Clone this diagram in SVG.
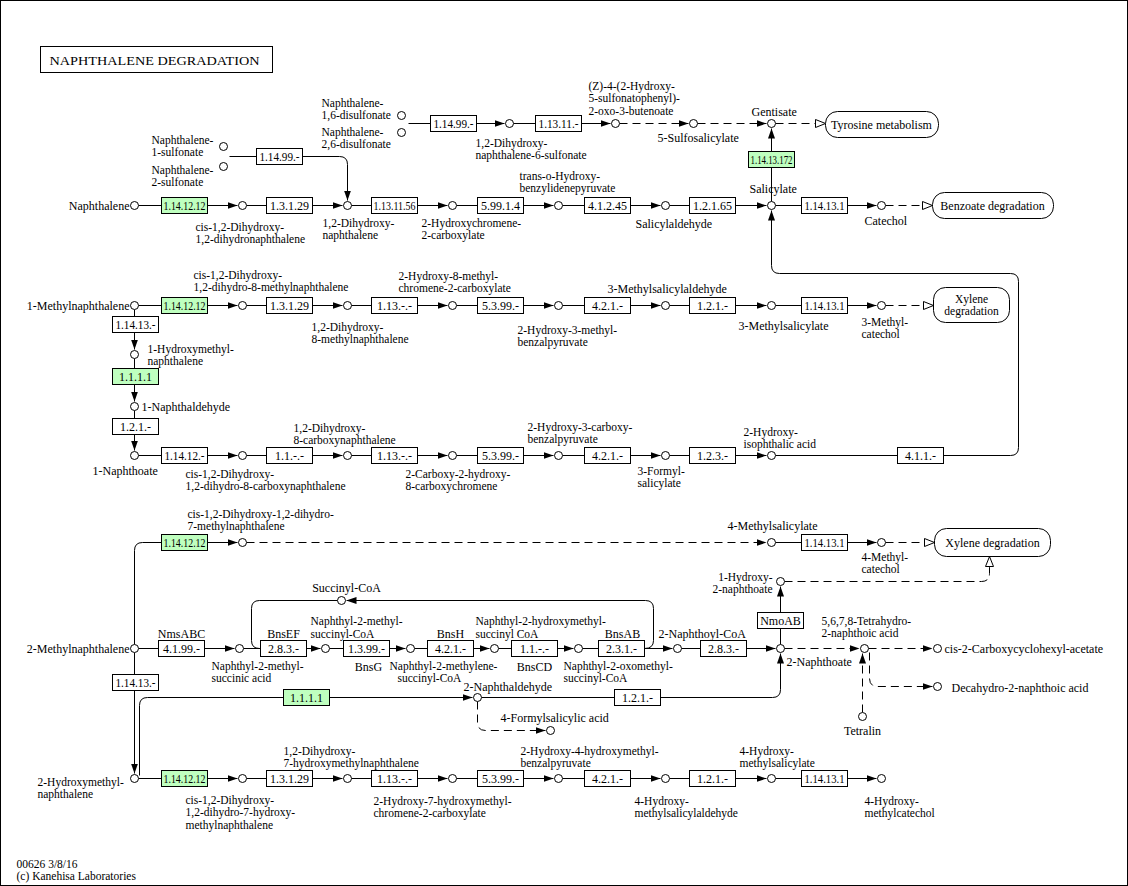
<svg xmlns="http://www.w3.org/2000/svg" width="1128" height="886" viewBox="0 0 1128 886">
<defs>
<style>
text{font-family:"Liberation Serif","Times New Roman",serif;font-size:12px;fill:#000}
.ml{font-size:11.5px}
.et{text-anchor:middle}
.m{text-anchor:middle}
.r{text-anchor:end}
.c{fill:#fff;stroke:#000;stroke-width:1}
.e{fill:#fff;stroke:#000;stroke-width:1}
.g{fill:#bfffbf;stroke:#000;stroke-width:1}
.mp{fill:#fff;stroke:#000;stroke-width:1}
.l{fill:none;stroke:#000;stroke-width:1}
.d{stroke-dasharray:8,5}
.a{marker-end:url(#ar)}
.o{marker-end:url(#oa)}
</style>
<marker id="ar" viewBox="0 0 10 8" refX="10" refY="4" markerWidth="10" markerHeight="8" markerUnits="userSpaceOnUse" orient="auto"><path d="M0,0.5 L10,4 L0,7.5 Z" fill="#000"/></marker>
<marker id="oa" viewBox="0 0 11 9" refX="10.5" refY="4.5" markerWidth="11" markerHeight="9" markerUnits="userSpaceOnUse" orient="auto"><path d="M0.5,0.5 L10.5,4.5 L0.5,8.5 Z" fill="#fff" stroke="#000"/></marker>
</defs>
<rect x="0" y="0" width="1128" height="886" fill="#fff"/>
<rect x="0.5" y="0.5" width="1127" height="885" fill="none" stroke="#000"/>
<g transform="translate(0.5,0.5)">
<g id="title"><rect x="40" y="46" width="232" height="26" fill="#fff" stroke="#000"/><text x="49" y="64" font-size="13" textLength="210" lengthAdjust="spacingAndGlyphs">NAPHTHALENE  DEGRADATION</text></g>
<g id="footer"><text class="ml" x="16" y="867">00626 3/8/16<tspan x="16" dy="12.8">(c) Kanehisa Laboratories</tspan></text></g>

<g id="connectors">
<path class="l" d="M408,123 H430"/>
<path class="l a" d="M476,123 H504"/>
<path class="l" d="M513,123 H535"/>
<path class="l a" d="M581,123 H610"/>
<path class="l d a" d="M619,123 H688"/>
<path class="l d a" d="M697,123 H766"/>
<path class="l d o" d="M775,123 H825"/>
<path class="l" d="M229,156 H256"/>
<path class="l a" d="M302,156 H339 Q347,156 347,164 V200"/>
<path class="l" d="M138,205 H161"/>
<path class="l a" d="M207,205 H237"/>
<path class="l" d="M246,205 H266"/>
<path class="l a" d="M312,205 H342"/>
<path class="l" d="M351,205 H371"/>
<path class="l a" d="M417,205 H447"/>
<path class="l" d="M456,205 H477"/>
<path class="l a" d="M523,205 H553"/>
<path class="l" d="M562,205 H584"/>
<path class="l a" d="M630,205 H660"/>
<path class="l" d="M669,205 H689"/>
<path class="l a" d="M735,205 H766"/>
<path class="l" d="M775,205 H801"/>
<path class="l a" d="M847,205 H876"/>
<path class="l d o" d="M885,205 H932"/>
<path class="l" d="M771,201 V167"/>
<path class="l a" d="M771,151 V128"/>
<path class="l" d="M138,305 H161"/>
<path class="l a" d="M207,305 H237"/>
<path class="l" d="M246,305 H266"/>
<path class="l a" d="M312,305 H342"/>
<path class="l" d="M351,305 H371"/>
<path class="l a" d="M417,305 H447"/>
<path class="l" d="M456,305 H477"/>
<path class="l a" d="M523,305 H553"/>
<path class="l" d="M562,305 H584"/>
<path class="l a" d="M630,305 H660"/>
<path class="l" d="M669,305 H689"/>
<path class="l a" d="M735,305 H766"/>
<path class="l" d="M775,305 H801"/>
<path class="l a" d="M847,305 H876"/>
<path class="l d o" d="M885,305 H933"/>
<path class="l" d="M134,309 V316"/>
<path class="l a" d="M134,332 V349"/>
<path class="l" d="M134,358 V368"/>
<path class="l a" d="M134,384 V401"/>
<path class="l" d="M134,410 V418"/>
<path class="l a" d="M134,434 V450"/>
<path class="l" d="M138,455 H161"/>
<path class="l a" d="M207,455 H237"/>
<path class="l" d="M246,455 H266"/>
<path class="l a" d="M312,455 H342"/>
<path class="l" d="M351,455 H371"/>
<path class="l a" d="M417,455 H447"/>
<path class="l" d="M456,455 H477"/>
<path class="l a" d="M523,455 H553"/>
<path class="l" d="M562,455 H584"/>
<path class="l a" d="M630,455 H660"/>
<path class="l" d="M669,455 H689"/>
<path class="l a" d="M735,455 H766"/>
<path class="l" d="M775,455 H897"/>
<path class="l a" d="M943,455 H1010 Q1018,455 1018,447 V281 Q1018,273 1010,273 H779 Q771,273 771,265 V210"/>
<path class="l" d="M134,644 V550 Q134,542 142,542 H161"/>
<path class="l a" d="M207,542 H237"/>
<path class="l d a" d="M246,542 H766"/>
<path class="l" d="M775,542 H801"/>
<path class="l a" d="M847,542 H876"/>
<path class="l d o" d="M885,542 H934"/>
<path class="l" d="M138,648 H158"/>
<path class="l a" d="M204,648 H234"/>
<path class="l" d="M243,648 H260"/>
<path class="l a" d="M306,648 H320"/>
<path class="l" d="M329,648 H343"/>
<path class="l a" d="M389,648 H405"/>
<path class="l" d="M414,648 H427"/>
<path class="l a" d="M473,648 H489"/>
<path class="l" d="M498,648 H511"/>
<path class="l a" d="M557,648 H573"/>
<path class="l" d="M582,648 H598"/>
<path class="l a" d="M644,648 H672"/>
<path class="l" d="M681,648 H700"/>
<path class="l a" d="M746,648 H775"/>
<path class="l" d="M259,648 Q251,648 251,640 V608 Q251,600 259,600 H337"/>
<path class="l a" d="M644,648 Q653,648 653,640 V608 Q653,600 645,600 H346"/>
<path class="l" d="M780,644 V628"/>
<path class="l a" d="M780,612 V586"/>
<path class="l d o" d="M784,581 H981 Q989,581 989,573 V556"/>
<path class="l d a" d="M784,648 H859"/>
<path class="l d a" d="M868,648 H932"/>
<path class="l d a" d="M869,652 V678 Q869,686 877,686 H932"/>
<path class="l d a" d="M862,712 V653"/>
<path class="l" d="M134,652 V674"/>
<path class="l a" d="M134,690 V773"/>
<path class="l" d="M139,775 V705 Q139,697 147,697 H283"/>
<path class="l a" d="M329,697 H472"/>
<path class="l" d="M481,697 H614"/>
<path class="l a" d="M660,697 H772 Q780,697 780,689 V653"/>
<path class="l d a" d="M477,701 V722 Q477,730 485,730 H545"/>
<path class="l" d="M138,778 H161"/>
<path class="l a" d="M207,778 H237"/>
<path class="l" d="M246,778 H266"/>
<path class="l a" d="M312,778 H342"/>
<path class="l" d="M351,778 H371"/>
<path class="l a" d="M417,778 H447"/>
<path class="l" d="M456,778 H477"/>
<path class="l a" d="M523,778 H553"/>
<path class="l" d="M562,778 H584"/>
<path class="l a" d="M630,778 H660"/>
<path class="l" d="M669,778 H689"/>
<path class="l a" d="M735,778 H766"/>
<path class="l" d="M775,778 H801"/>
<path class="l a" d="M847,778 H876"/>
</g>

<g id="map_tyr"><rect class="mp" x="825" y="111" width="113" height="26" rx="12"/><text class="m" x="881" y="128">Tyrosine metabolism</text></g>
<g id="map_benz"><rect class="mp" x="932" y="192" width="121" height="26" rx="12"/><text class="m" x="992" y="209">Benzoate degradation</text></g>
<g id="map_xyl1"><rect class="mp" x="933" y="287" width="76" height="35" rx="12"/><text class="m ml" x="971" y="302">Xylene<tspan x="971" dy="12.8">degradation</tspan></text></g>
<g id="map_xyl2"><rect class="mp" x="934" y="528" width="116" height="28" rx="12"/><text class="m" x="992" y="546">Xylene degradation</text></g>

<g id="e_top1"><rect class="e" x="256" y="148" width="46" height="16"/><text class="et" x="279" y="160" textLength="40" lengthAdjust="spacingAndGlyphs">1.14.99.-</text></g>
<g id="e_top2"><rect class="e" x="430" y="115" width="46" height="16"/><text class="et" x="453" y="127" textLength="40" lengthAdjust="spacingAndGlyphs">1.14.99.-</text></g>
<g id="e_top3"><rect class="e" x="535" y="115" width="46" height="16"/><text class="et" x="558" y="127" textLength="40" lengthAdjust="spacingAndGlyphs">1.13.11.-</text></g>
<g id="e_sal"><rect class="g" x="748" y="151" width="46" height="16"/><text class="et" x="771" y="163" textLength="42" lengthAdjust="spacingAndGlyphs">1.14.13.172</text></g>

<g id="e_r1a"><rect class="g" x="161" y="197" width="46" height="16"/><text class="et" x="184" y="209" textLength="42" lengthAdjust="spacingAndGlyphs">1.14.12.12</text></g>
<g id="e_r1b"><rect class="e" x="266" y="197" width="46" height="16"/><text class="et" x="289" y="209">1.3.1.29</text></g>
<g id="e_r1c"><rect class="e" x="371" y="197" width="46" height="16"/><text class="et" x="394" y="209" textLength="42" lengthAdjust="spacingAndGlyphs">1.13.11.56</text></g>
<g id="e_r1d"><rect class="e" x="477" y="197" width="46" height="16"/><text class="et" x="500" y="209">5.99.1.4</text></g>
<g id="e_r1e"><rect class="e" x="584" y="197" width="46" height="16"/><text class="et" x="607" y="209">4.1.2.45</text></g>
<g id="e_r1f"><rect class="e" x="689" y="197" width="46" height="16"/><text class="et" x="712" y="209">1.2.1.65</text></g>
<g id="e_r1g"><rect class="e" x="801" y="197" width="46" height="16"/><text class="et" x="824" y="209" textLength="40" lengthAdjust="spacingAndGlyphs">1.14.13.1</text></g>

<g id="e_r2a"><rect class="g" x="161" y="297" width="46" height="16"/><text class="et" x="184" y="309" textLength="42" lengthAdjust="spacingAndGlyphs">1.14.12.12</text></g>
<g id="e_r2b"><rect class="e" x="266" y="297" width="46" height="16"/><text class="et" x="289" y="309">1.3.1.29</text></g>
<g id="e_r2c"><rect class="e" x="371" y="297" width="46" height="16"/><text class="et" x="394" y="309">1.13.-.-</text></g>
<g id="e_r2d"><rect class="e" x="477" y="297" width="46" height="16"/><text class="et" x="500" y="309">5.3.99.-</text></g>
<g id="e_r2e"><rect class="e" x="584" y="297" width="46" height="16"/><text class="et" x="607" y="309">4.2.1.-</text></g>
<g id="e_r2f"><rect class="e" x="689" y="297" width="46" height="16"/><text class="et" x="712" y="309">1.2.1.-</text></g>
<g id="e_r2g"><rect class="e" x="801" y="297" width="46" height="16"/><text class="et" x="824" y="309" textLength="40" lengthAdjust="spacingAndGlyphs">1.14.13.1</text></g>
<g id="e_v1"><rect class="e" x="112" y="316" width="46" height="16"/><text class="et" x="135" y="328" textLength="40" lengthAdjust="spacingAndGlyphs">1.14.13.-</text></g>
<g id="e_v2"><rect class="g" x="112" y="368" width="46" height="16"/><text class="et" x="135" y="380">1.1.1.1</text></g>
<g id="e_v3"><rect class="e" x="112" y="418" width="46" height="16"/><text class="et" x="135" y="430">1.2.1.-</text></g>

<g id="e_r3a"><rect class="e" x="161" y="447" width="46" height="16"/><text class="et" x="184" y="459" textLength="40" lengthAdjust="spacingAndGlyphs">1.14.12.-</text></g>
<g id="e_r3b"><rect class="e" x="266" y="447" width="46" height="16"/><text class="et" x="289" y="459">1.1.-.-</text></g>
<g id="e_r3c"><rect class="e" x="371" y="447" width="46" height="16"/><text class="et" x="394" y="459">1.13.-.-</text></g>
<g id="e_r3d"><rect class="e" x="477" y="447" width="46" height="16"/><text class="et" x="500" y="459">5.3.99.-</text></g>
<g id="e_r3e"><rect class="e" x="584" y="447" width="46" height="16"/><text class="et" x="607" y="459">4.2.1.-</text></g>
<g id="e_r3f"><rect class="e" x="689" y="447" width="46" height="16"/><text class="et" x="712" y="459">1.2.3.-</text></g>
<g id="e_r3g"><rect class="e" x="897" y="447" width="46" height="16"/><text class="et" x="920" y="459">4.1.1.-</text></g>

<g id="e_r4a"><rect class="g" x="161" y="534" width="46" height="16"/><text class="et" x="184" y="546" textLength="42" lengthAdjust="spacingAndGlyphs">1.14.12.12</text></g>
<g id="e_r4b"><rect class="e" x="801" y="534" width="46" height="16"/><text class="et" x="824" y="546" textLength="40" lengthAdjust="spacingAndGlyphs">1.14.13.1</text></g>

<g id="e_r5a"><rect class="e" x="158" y="640" width="46" height="16"/><text class="et" x="181" y="652">4.1.99.-</text><text class="m" x="181" y="637">NmsABC</text></g>
<g id="e_r5b"><rect class="e" x="260" y="640" width="46" height="16"/><text class="et" x="283" y="652">2.8.3.-</text><text class="m" x="283" y="637">BnsEF</text></g>
<g id="e_r5c"><rect class="e" x="343" y="640" width="46" height="16"/><text class="et" x="366" y="652">1.3.99.-</text><text class="m" x="368" y="670">BnsG</text></g>
<g id="e_r5d"><rect class="e" x="427" y="640" width="46" height="16"/><text class="et" x="450" y="652">4.2.1.-</text><text class="m" x="450" y="637">BnsH</text></g>
<g id="e_r5e"><rect class="e" x="511" y="640" width="46" height="16"/><text class="et" x="534" y="652">1.1.-.-</text><text class="m" x="534" y="670">BnsCD</text></g>
<g id="e_r5f"><rect class="e" x="598" y="640" width="46" height="16"/><text class="et" x="621" y="652">2.3.1.-</text><text class="m" x="622" y="637">BnsAB</text></g>
<g id="e_r5g"><rect class="e" x="700" y="640" width="46" height="16"/><text class="et" x="723" y="652">2.8.3.-</text></g>
<g id="e_nmo"><rect class="e" x="757" y="612" width="46" height="16"/><text class="et" x="780" y="624">NmoAB</text></g>
<g id="e_v4"><rect class="e" x="112" y="674" width="46" height="16"/><text class="et" x="135" y="686" textLength="40" lengthAdjust="spacingAndGlyphs">1.14.13.-</text></g>
<g id="e_r5h"><rect class="g" x="283" y="689" width="46" height="16"/><text class="et" x="306" y="701">1.1.1.1</text></g>
<g id="e_r5i"><rect class="e" x="614" y="689" width="46" height="16"/><text class="et" x="637" y="701">1.2.1.-</text></g>

<g id="e_r6a"><rect class="g" x="161" y="770" width="46" height="16"/><text class="et" x="184" y="782" textLength="42" lengthAdjust="spacingAndGlyphs">1.14.12.12</text></g>
<g id="e_r6b"><rect class="e" x="266" y="770" width="46" height="16"/><text class="et" x="289" y="782">1.3.1.29</text></g>
<g id="e_r6c"><rect class="e" x="371" y="770" width="46" height="16"/><text class="et" x="394" y="782">1.13.-.-</text></g>
<g id="e_r6d"><rect class="e" x="477" y="770" width="46" height="16"/><text class="et" x="500" y="782">5.3.99.-</text></g>
<g id="e_r6e"><rect class="e" x="584" y="770" width="46" height="16"/><text class="et" x="607" y="782">4.2.1.-</text></g>
<g id="e_r6f"><rect class="e" x="689" y="770" width="46" height="16"/><text class="et" x="712" y="782">1.2.1.-</text></g>
<g id="e_r6g"><rect class="e" x="801" y="770" width="46" height="16"/><text class="et" x="824" y="782" textLength="40" lengthAdjust="spacingAndGlyphs">1.14.13.1</text></g>

<g id="c_n16ds"><circle class="c" cx="401" cy="115" r="4"/><text class="ml" x="321" y="106">Naphthalene-<tspan x="321" dy="12.8">1,6-disulfonate</tspan></text></g>
<g id="c_n26ds"><circle class="c" cx="401" cy="132" r="4"/><text class="ml" x="321" y="135">Naphthalene-<tspan x="321" dy="12.8">2,6-disulfonate</tspan></text></g>
<g id="c_dhn6s"><circle class="c" cx="509" cy="123" r="4"/><text class="ml" x="475" y="146">1,2-Dihydroxy-<tspan x="475" dy="12.8">naphthalene-6-sulfonate</tspan></text></g>
<g id="c_zhsb"><circle class="c" cx="615" cy="123" r="4"/><text class="ml" x="588" y="89">(Z)-4-(2-Hydroxy-<tspan x="588" dy="12.8">5-sulfonatophenyl)-</tspan><tspan x="588" dy="12.8">2-oxo-3-butenoate</tspan></text></g>
<g id="c_5ss"><circle class="c" cx="693" cy="123" r="4"/><text x="657" y="141">5-Sulfosalicylate</text></g>
<g id="c_gent"><circle class="c" cx="771" cy="123" r="4"/><text x="751" y="115">Gentisate</text></g>
<g id="c_n1s"><circle class="c" cx="223" cy="146" r="4"/><text class="ml" x="151" y="143">Naphthalene-<tspan x="151" dy="12.8">1-sulfonate</tspan></text></g>
<g id="c_n2s"><circle class="c" cx="223" cy="166" r="4"/><text class="ml" x="151" y="173">Naphthalene-<tspan x="151" dy="12.8">2-sulfonate</tspan></text></g>

<g id="c_naph"><circle class="c" cx="134" cy="205" r="4"/><text class="r" x="129" y="209">Naphthalene</text></g>
<g id="c_cdhn"><circle class="c" cx="242" cy="205" r="4"/><text class="ml" x="195" y="230">cis-1,2-Dihydroxy-<tspan x="195" dy="12.8">1,2-dihydronaphthalene</tspan></text></g>
<g id="c_dhn"><circle class="c" cx="347" cy="205" r="4"/><text class="ml" x="322" y="226">1,2-Dihydroxy-<tspan x="322" dy="12.8">naphthalene</tspan></text></g>
<g id="c_hcc"><circle class="c" cx="452" cy="205" r="4"/><text class="ml" x="421" y="226">2-Hydroxychromene-<tspan x="421" dy="12.8">2-carboxylate</tspan></text></g>
<g id="c_tohbp"><circle class="c" cx="558" cy="205" r="4"/><text class="ml" x="519" y="179">trans-o-Hydroxy-<tspan x="519" dy="12.8">benzylidenepyruvate</tspan></text></g>
<g id="c_salald"><circle class="c" cx="665" cy="205" r="4"/><text x="635" y="227">Salicylaldehyde</text></g>
<g id="c_sal"><circle class="c" cx="771" cy="205" r="4"/><text x="749" y="192">Salicylate</text></g>
<g id="c_cat"><circle class="c" cx="881" cy="205" r="4"/><text x="864" y="224">Catechol</text></g>

<g id="c_1mn"><circle class="c" cx="134" cy="305" r="4"/><text class="r" x="129" y="309">1-Methylnaphthalene</text></g>
<g id="c_r2a"><circle class="c" cx="242" cy="305" r="4"/><text class="ml" x="193" y="278">cis-1,2-Dihydroxy-<tspan x="193" dy="12.8">1,2-dihydro-8-methylnaphthalene</tspan></text></g>
<g id="c_r2b"><circle class="c" cx="347" cy="305" r="4"/><text class="ml" x="311" y="330">1,2-Dihydroxy-<tspan x="311" dy="12.8">8-methylnaphthalene</tspan></text></g>
<g id="c_r2c"><circle class="c" cx="452" cy="305" r="4"/><text class="ml" x="398" y="279">2-Hydroxy-8-methyl-<tspan x="398" dy="12.8">chromene-2-carboxylate</tspan></text></g>
<g id="c_r2d"><circle class="c" cx="558" cy="305" r="4"/><text class="ml" x="517" y="333">2-Hydroxy-3-methyl-<tspan x="517" dy="12.8">benzalpyruvate</tspan></text></g>
<g id="c_r2e"><circle class="c" cx="665" cy="305" r="4"/><text x="607" y="292">3-Methylsalicylaldehyde</text></g>
<g id="c_r2f"><circle class="c" cx="771" cy="305" r="4"/><text x="738" y="329">3-Methylsalicylate</text></g>
<g id="c_r2g"><circle class="c" cx="881" cy="305" r="4"/><text class="ml" x="861" y="325">3-Methyl-<tspan x="861" dy="12.8">catechol</tspan></text></g>
<g id="c_1hmn"><circle class="c" cx="134" cy="354" r="4"/><text class="ml" x="147" y="352">1-Hydroxymethyl-<tspan x="147" dy="12.8">naphthalene</tspan></text></g>
<g id="c_1nald"><circle class="c" cx="134" cy="406" r="4"/><text x="141" y="410">1-Naphthaldehyde</text></g>

<g id="c_1noate"><circle class="c" cx="134" cy="455" r="4"/><text x="92" y="474">1-Naphthoate</text></g>
<g id="c_r3a"><circle class="c" cx="242" cy="455" r="4"/><text class="ml" x="185" y="477">cis-1,2-Dihydroxy-<tspan x="185" dy="12.8">1,2-dihydro-8-carboxynaphthalene</tspan></text></g>
<g id="c_r3b"><circle class="c" cx="347" cy="455" r="4"/><text class="ml" x="293" y="431">1,2-Dihydroxy-<tspan x="293" dy="12.8">8-carboxynaphthalene</tspan></text></g>
<g id="c_r3c"><circle class="c" cx="452" cy="455" r="4"/><text class="ml" x="405" y="477">2-Carboxy-2-hydroxy-<tspan x="405" dy="12.8">8-carboxychromene</tspan></text></g>
<g id="c_r3d"><circle class="c" cx="558" cy="455" r="4"/><text class="ml" x="527" y="430">2-Hydroxy-3-carboxy-<tspan x="527" dy="12.8">benzalpyruvate</tspan></text></g>
<g id="c_r3e"><circle class="c" cx="665" cy="455" r="4"/><text class="ml" x="637" y="474">3-Formyl-<tspan x="637" dy="12.8">salicylate</tspan></text></g>
<g id="c_r3f"><circle class="c" cx="771" cy="455" r="4"/><text class="ml" x="743" y="435">2-Hydroxy-<tspan x="743" dy="12.8">isophthalic acid</tspan></text></g>

<g id="c_r4a"><circle class="c" cx="242" cy="542" r="4"/><text class="ml" x="187" y="517">cis-1,2-Dihydroxy-1,2-dihydro-<tspan x="187" dy="12.8">7-methylnaphthalene</tspan></text></g>
<g id="c_r4b"><circle class="c" cx="771" cy="542" r="4"/><text x="727" y="529">4-Methylsalicylate</text></g>
<g id="c_r4c"><circle class="c" cx="881" cy="542" r="4"/><text class="ml" x="861" y="560">4-Methyl-<tspan x="861" dy="12.8">catechol</tspan></text></g>
<g id="c_1h2n"><circle class="c" cx="780" cy="581" r="4"/><text class="r ml" x="772" y="580">1-Hydroxy-<tspan x="772" dy="12.8">2-naphthoate</tspan></text></g>

<g id="c_2mn"><circle class="c" cx="134" cy="648" r="4"/><text class="r" x="129" y="652">2-Methylnaphthalene</text></g>
<g id="c_r5a"><circle class="c" cx="239" cy="648" r="4"/><text class="ml" x="211" y="669">Naphthyl-2-methyl-<tspan x="211" dy="12.8">succinic acid</tspan></text></g>
<g id="c_succ"><circle class="c" cx="341" cy="600" r="4"/><text class="m" x="346" y="591">Succinyl-CoA</text></g>
<g id="c_r5b"><circle class="c" cx="325" cy="648" r="4"/><text class="ml" x="310" y="624.5">Naphthyl-2-methyl-<tspan x="310" dy="12.8">succinyl-CoA</tspan></text></g>
<g id="c_r5c"><circle class="c" cx="410" cy="648" r="4"/><text class="ml" x="389" y="669">Naphthyl-2-methylene-<tspan x="397" dy="12.8">succinyl-CoA</tspan></text></g>
<g id="c_r5d"><circle class="c" cx="494" cy="648" r="4"/><text class="ml" x="475" y="624.5">Naphthyl-2-hydroxymethyl-<tspan x="475" dy="12.8">succinyl CoA</tspan></text></g>
<g id="c_r5e"><circle class="c" cx="578" cy="648" r="4"/><text class="ml" x="563" y="669">Naphthyl-2-oxomethyl-<tspan x="563" dy="12.8">succinyl-CoA</tspan></text></g>
<g id="c_r5f"><circle class="c" cx="677" cy="648" r="4"/><text x="658" y="637">2-Naphthoyl-CoA</text></g>
<g id="c_2noate"><circle class="c" cx="780" cy="648" r="4"/><text x="786" y="665">2-Naphthoate</text></g>
<g id="c_thn"><circle class="c" cx="864" cy="648" r="4"/><text class="ml" x="821" y="624">5,6,7,8-Tetrahydro-<tspan x="821" dy="12.8">2-naphthoic acid</tspan></text></g>
<g id="c_cchA"><circle class="c" cx="937" cy="648" r="4"/><text x="944" y="652">cis-2-Carboxycyclohexyl-acetate</text></g>
<g id="c_dhna"><circle class="c" cx="937" cy="686" r="4"/><text x="951" y="691">Decahydro-2-naphthoic acid</text></g>
<g id="c_tetralin"><circle class="c" cx="862" cy="716" r="4"/><text class="m" x="862" y="734">Tetralin</text></g>
<g id="c_2nald"><circle class="c" cx="477" cy="697" r="4"/><text x="463" y="690">2-Naphthaldehyde</text></g>
<g id="c_4fsa"><circle class="c" cx="550" cy="730" r="4"/><text x="500" y="721">4-Formylsalicylic acid</text></g>

<g id="c_2hmn"><circle class="c" cx="134" cy="778" r="4"/><text class="ml" x="37" y="785">2-Hydroxymethyl-<tspan x="37" dy="12.8">naphthalene</tspan></text></g>
<g id="c_r6a"><circle class="c" cx="242" cy="778" r="4"/><text class="ml" x="185" y="803">cis-1,2-Dihydroxy-<tspan x="185" dy="12.8">1,2-dihydro-7-hydroxy-</tspan><tspan x="185" dy="12.8">methylnaphthalene</tspan></text></g>
<g id="c_r6b"><circle class="c" cx="347" cy="778" r="4"/><text class="ml" x="283" y="754">1,2-Dihydroxy-<tspan x="283" dy="12.8">7-hydroxymethylnaphthalene</tspan></text></g>
<g id="c_r6c"><circle class="c" cx="452" cy="778" r="4"/><text class="ml" x="373" y="804">2-Hydroxy-7-hydroxymethyl-<tspan x="373" dy="12.8">chromene-2-carboxylate</tspan></text></g>
<g id="c_r6d"><circle class="c" cx="558" cy="778" r="4"/><text class="ml" x="520" y="754">2-Hydroxy-4-hydroxymethyl-<tspan x="520" dy="12.8">benzalpyruvate</tspan></text></g>
<g id="c_r6e"><circle class="c" cx="665" cy="778" r="4"/><text class="ml" x="634" y="804">4-Hydroxy-<tspan x="634" dy="12.8">methylsalicylaldehyde</tspan></text></g>
<g id="c_r6f"><circle class="c" cx="771" cy="778" r="4"/><text class="ml" x="739" y="754">4-Hydroxy-<tspan x="739" dy="12.8">methylsalicylate</tspan></text></g>
<g id="c_r6g"><circle class="c" cx="881" cy="778" r="4"/><text class="ml" x="864" y="804">4-Hydroxy-<tspan x="864" dy="12.8">methylcatechol</tspan></text></g>
</g>
</svg>
